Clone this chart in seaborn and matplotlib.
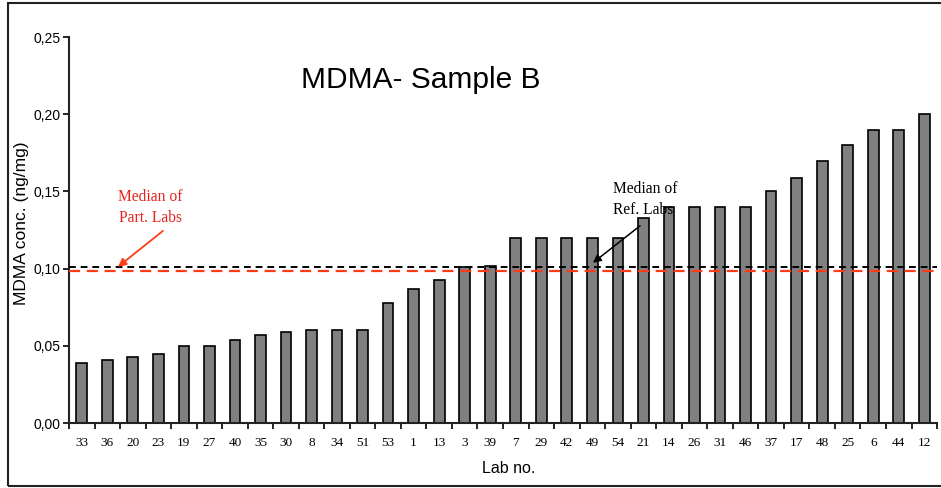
import pandas as pd
import seaborn as sns
import matplotlib.pyplot as plt
from matplotlib.ticker import FuncFormatter, FixedLocator
from matplotlib.patches import Rectangle

# Lab numbers in plotted order and measured MDMA concentrations
labs = ['33', '36', '20', '23', '19', '27', '40', '35', '30', '8', '34', '51',
        '53', '1', '13', '3', '39', '7', '29', '42', '49', '54', '21', '14',
        '26', '31', '46', '37', '17', '48', '25', '6', '44', '12']
conc = [0.039, 0.041, 0.043, 0.045, 0.050, 0.050, 0.054, 0.057, 0.059, 0.060,
        0.060, 0.060, 0.078, 0.087, 0.093, 0.101, 0.102, 0.120, 0.120, 0.120,
        0.120, 0.120, 0.133, 0.140, 0.140, 0.140, 0.140, 0.150, 0.159, 0.170,
        0.180, 0.190, 0.190, 0.200]

median_ref = 0.1012
median_part = 0.0983

df = pd.DataFrame({'lab': labs, 'conc': conc})

sns.set_style('ticks')
plt.rcParams['font.family'] = ['Liberation Sans', 'DejaVu Sans']
plt.rcParams.update({'text.color': 'black', 'axes.labelcolor': 'black',
                     'xtick.color': 'black', 'ytick.color': 'black'})

fig = plt.figure(figsize=(9.41, 4.88), dpi=100)
ax = fig.add_axes([0.0733, 0.133, 0.9225, 0.791])

sns.barplot(data=df, x='lab', y='conc', order=labs, color='#808080',
            saturation=1, width=0.42, edgecolor='black', linewidth=1.2, ax=ax)

# median lines
ax.axhline(median_ref, color='black', ls=(0, (3.5, 2.5)), lw=1.4, zorder=3)
ax.axhline(median_part, color='#ff3c14', ls=(0, (5, 3)), lw=1.6, zorder=3)

ax.set_xlim(-0.5, len(labs) - 0.5)
ax.set_ylim(0, 0.25)
ax.set_yticks([0, 0.05, 0.10, 0.15, 0.20, 0.25])
ax.yaxis.set_major_formatter(FuncFormatter(lambda v, p: f'{v:.2f}'.replace('.', ',')))

# excel-style ticks between categories
ax.xaxis.set_minor_locator(FixedLocator([i - 0.5 for i in range(len(labs) + 1)]))
ax.tick_params(axis='x', which='major', length=0, pad=10)
ax.tick_params(axis='x', which='minor', length=4, width=1.2, direction='out')
ax.tick_params(axis='y', length=4, width=1.2, direction='out', labelsize=10, pad=2)
for t in ax.get_xticklabels():
    t.set_fontfamily('Liberation Serif')
    t.set_fontsize(9.5)

for s in ['top', 'right']:
    ax.spines[s].set_visible(False)
for s in ['left', 'bottom']:
    ax.spines[s].set_linewidth(1.5)
    ax.spines[s].set_color('#222222')

ax.set_xlabel('Lab no.', fontsize=11.5)
ax.set_ylabel('MDMA conc. (ng/mg)', fontsize=12.5)
ax.xaxis.set_label_coords(0.507, -0.098)
ax.yaxis.set_label_coords(-0.0455, 0.518)

ax.text(13.29, 0.2223, 'MDMA- Sample B', fontsize=21.5, ha='center', va='center')

# annotations for medians
ax.text(2.69, 0.1394, 'Median of\nPart. Labs', ha='center', va='center',
        color='#e8231f', fontsize=11.2, family='Liberation Serif', linespacing=1.4)
ax.annotate('', xy=(1.42, median_ref), xytext=(3.18, 0.1245),
            arrowprops=dict(arrowstyle='-|>', color='#ff3c14', lw=1.3,
                            shrinkA=0, shrinkB=0, mutation_scale=12))
ax.text(20.81, 0.1446, 'Median of\nRef. Labs', ha='left', va='center',
        color='black', fontsize=11.2, family='Liberation Serif', linespacing=1.4)
ax.annotate('', xy=(20.02, 0.1038), xytext=(21.87, 0.1278),
            arrowprops=dict(arrowstyle='-|>', color='black', lw=1.1,
                            shrinkA=0, shrinkB=0, mutation_scale=12))

# outer frame
fig.patches.append(Rectangle((0.0085, 0.004), 1.1, 0.99, transform=fig.transFigure,
                             fill=False, edgecolor='#222222', lw=1.5))

fig.savefig('out.png', dpi=100)
